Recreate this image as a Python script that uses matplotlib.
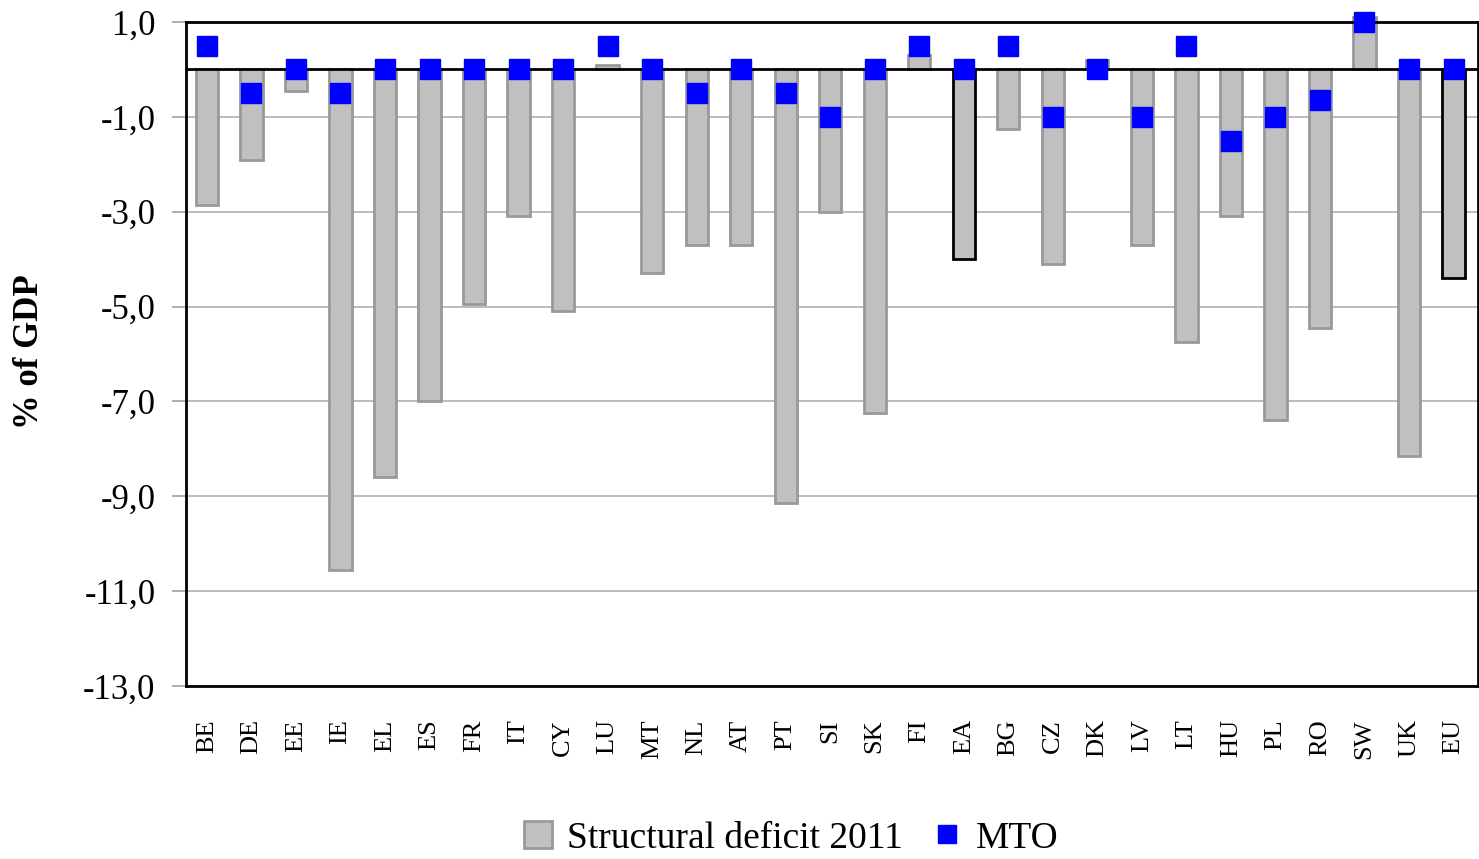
import matplotlib
matplotlib.use("Agg")
import matplotlib.pyplot as plt
import numpy as np

countries = ["BE", "DE", "EE", "IE", "EL", "ES", "FR", "IT", "CY", "LU", "MT", "NL", "AT", "PT",
             "SI", "SK", "FI", "EA", "BG", "CZ", "DK", "LV", "LT", "HU", "PL", "RO", "SW", "UK", "EU"]
structural_deficit_2011 = [-2.85, -1.9, -0.45, -10.55, -8.6, -7.0, -4.95, -3.1, -5.1, 0.1, -4.3, -3.7,
                           -3.7, -9.15, -3.0, -7.25, 0.3, -4.0, -1.25, -4.1, 0.2, -3.7, -5.75, -3.1,
                           -7.4, -5.45, 1.1, -8.15, -4.4]
mto = [0.5, -0.5, 0.0, -0.5, 0.0, 0.0, 0.0, 0.0, 0.0, 0.5, 0.0, -0.5, 0.0, -0.5,
       -1.0, 0.0, 0.5, 0.0, 0.5, -1.0, 0.0, -1.0, 0.5, -1.5, -1.0, -0.65, 1.0, 0.0, 0.0]
yticks = [1, -1, -3, -5, -7, -9, -11, -13]
aggregates = ["EA", "EU"]

plt.rcParams['font.family'] = ['Liberation Serif', 'DejaVu Serif']

fig = plt.figure(figsize=(14.79, 8.59), dpi=100)
ax = fig.add_axes([186/1479, 1-686/859, (1478-186)/1479, (686-22)/859])

x = np.arange(len(countries))
edgecols = ['black' if c in aggregates else '#999999' for c in countries]
bars = ax.bar(x, structural_deficit_2011, width=0.5, color='#C0C0C0', edgecolor=edgecols,
              linewidth=2, zorder=2, label='Structural deficit 2011')
for b in bars:
    b.set_clip_on(False)
mk, = ax.plot(x, mto, linestyle='none', marker='s', markersize=15, color='#0000FF',
              markeredgecolor='#0000FF', zorder=4, clip_on=False, label='MTO')

ax.axhline(0, color='black', linewidth=2, zorder=3)
ax.set_ylim(-13, 1)
ax.set_xlim(-0.47, 28.55)
ax.set_yticks(yticks)
ax.set_yticklabels([f"{v:.1f}".replace('.', ',') for v in yticks], fontsize=25)
ax.yaxis.grid(True, color='#B0B0B0', linewidth=1.2, zorder=0)
ax.set_axisbelow(True)
ax.tick_params(axis='y', length=10, width=1.2, color='#A0A0A0', pad=12)
ax.set_xticks(x)
ax.set_xticklabels(countries, rotation=90, fontsize=19, va='top')
ax.tick_params(axis='x', length=0, pad=24)
for s in ax.spines.values():
    s.set_color('black')
    s.set_linewidth(2)

fig.text(30/1479, 1-352/859, '% of GDP', fontsize=25, fontweight='bold', rotation=90,
         ha='center', va='center')

leg = fig.legend(handles=[bars, mk], labels=['Structural deficit 2011', 'MTO'],
                 loc='center', bbox_to_anchor=(0.535, 0.024), ncol=2, frameon=False,
                 fontsize=27, handlelength=0.75, handleheight=0.75, handletextpad=0.4,
                 columnspacing=0.8, markerscale=0.85)
fig.savefig('out.png', dpi=100)
